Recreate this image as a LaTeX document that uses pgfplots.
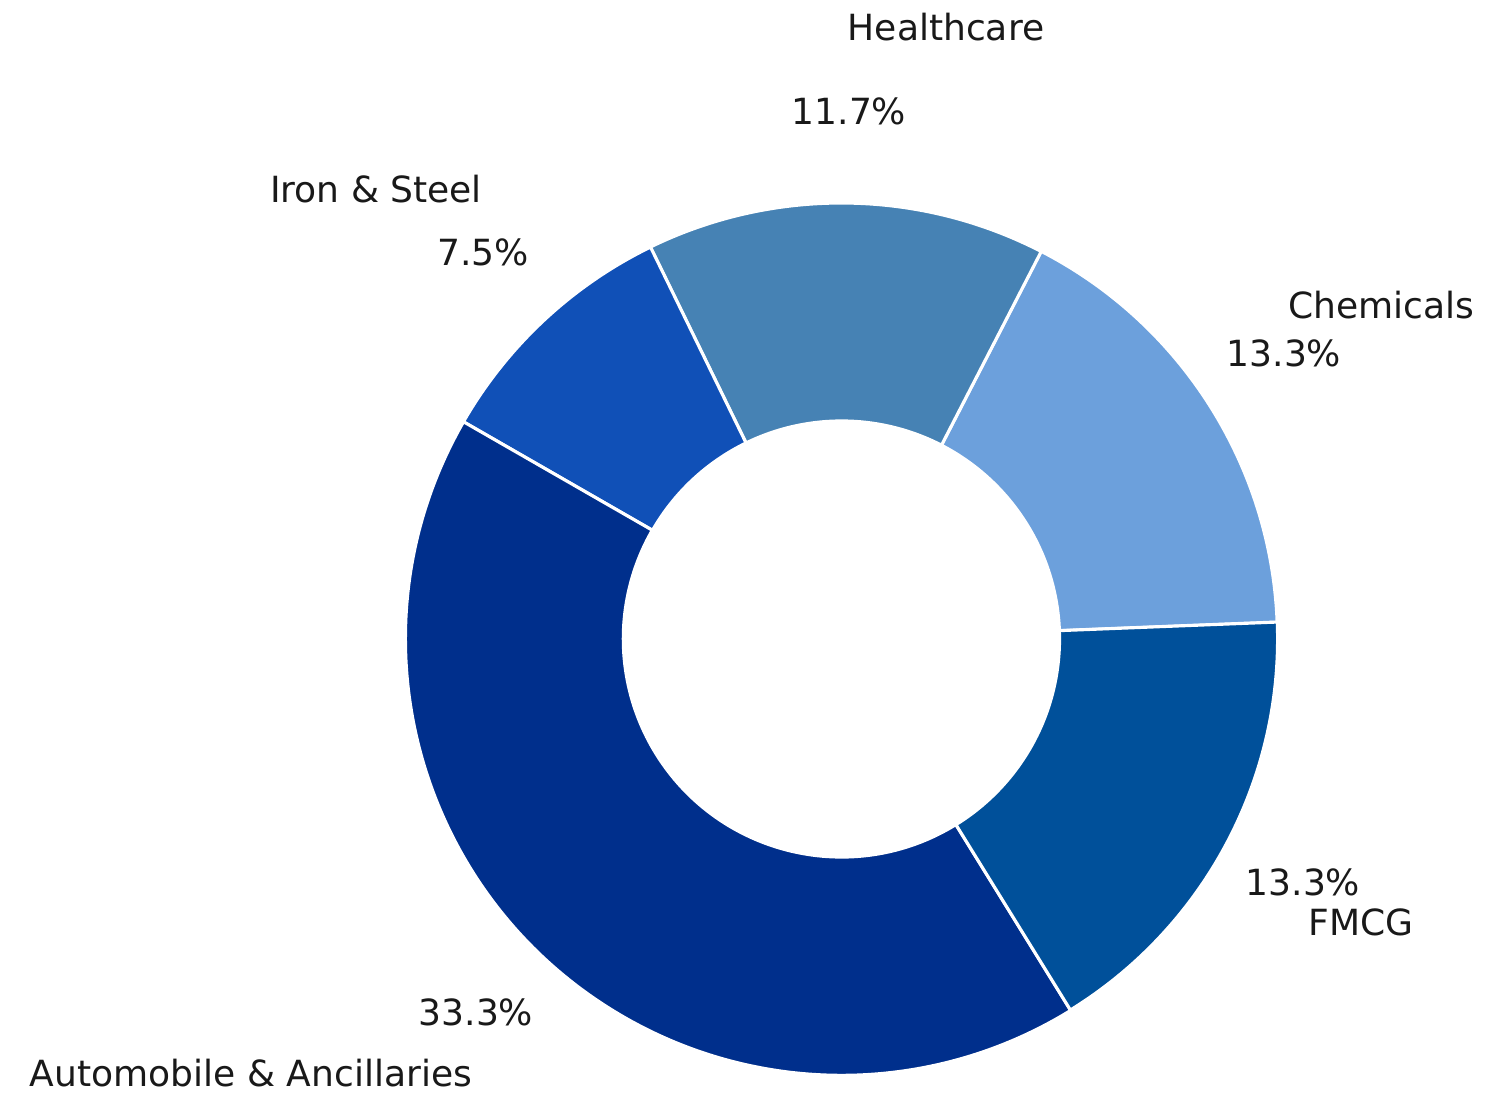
\documentclass[border=0pt]{standalone}
\usepackage{pgfplots}
\pgfplotsset{compat=1.18}
\usepackage{fontspec}
\setmainfont{DejaVu Sans}
\definecolor{cChem}{HTML}{6CA0DC}
\definecolor{cHealth}{HTML}{4682B4}
\definecolor{cIron}{HTML}{1050B7}
\definecolor{cAuto}{HTML}{002F8C}
\definecolor{cFmcg}{HTML}{00509A}
% values (percent)
\def\vChem{13.3}
\def\vHealth{11.7}
\def\vIron{7.5}
\def\vAuto{33.3}
\def\vFmcg{13.3}
\begin{document}
\begin{tikzpicture}
\pgfmathsetmacro{\tot}{\vChem+\vHealth+\vIron+\vAuto+\vFmcg}
\pgfmathsetmacro{\aA}{2.2}
\pgfmathsetmacro{\aB}{\aA+360*\vChem/\tot}
\pgfmathsetmacro{\aC}{\aB+360*\vHealth/\tot}
\pgfmathsetmacro{\aD}{\aC+360*\vIron/\tot}
\pgfmathsetmacro{\aE}{\aD+360*\vAuto/\tot}
\pgfmathsetmacro{\aF}{\aE+360*\vFmcg/\tot}
\def\cx{841.5}
\def\cy{455}
\def\ro{436}
\def\ri{218}
\newcommand{\pieWedge}[3]{%
  \filldraw[fill=#3, draw=white, line width=0.9pt, line join=round]
    (axis cs:{\cx+\ro*cos(#1)},{\cy+\ro*sin(#1)})
    arc[start angle=#1, end angle=#2, radius=4.36cm]
    -- (axis cs:{\cx+\ri*cos(#2)},{\cy+\ri*sin(#2)})
    arc[start angle=#2, end angle=#1, radius=2.18cm] -- cycle;}
\begin{axis}[x=0.01cm, y=0.01cm, xmin=0, xmax=1507, ymin=0, ymax=1094,
  hide axis, clip=false]
\path (axis cs:0,0) rectangle (axis cs:1507,1094);
\pieWedge{\aA}{\aB}{cChem}
\pieWedge{\aB}{\aC}{cHealth}
\pieWedge{\aC}{\aD}{cIron}
\pieWedge{\aD}{\aE}{cAuto}
\pieWedge{\aE}{\aF}{cFmcg}
\begin{scope}[every node/.style={font=\fontsize{10.25}{12}\selectfont, anchor=base, inner sep=0pt, text=black!90}]
\node at (axis cs:946,{1094-41}) {Healthcare};
\node at (axis cs:849,{1094-125}) {11.7\%};
\node at (axis cs:376,{1094-203}) {Iron \& Steel};
\node at (axis cs:483,{1094-266}) {7.5\%};
\node at (axis cs:1381,{1094-319}) {Chemicals};
\node at (axis cs:1284,{1094-367}) {13.3\%};
\node at (axis cs:1303,{1094-896}) {13.3\%};
\node at (axis cs:1361,{1094-936}) {FMCG};
\node at (axis cs:476,{1094-1026}) {33.3\%};
\node at (axis cs:251,{1094-1087}) {Automobile \& Ancillaries};
\end{scope}
\end{axis}
\end{tikzpicture}
\end{document}
